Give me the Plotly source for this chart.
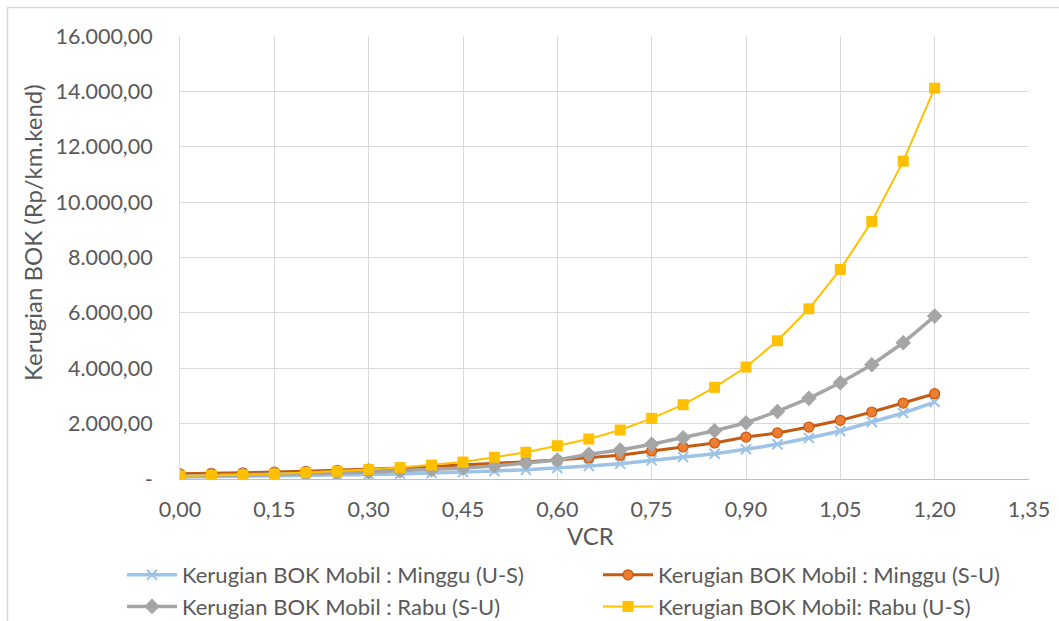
import plotly.graph_objects as go

# VCR values on the x axis
vcr = [0.00, 0.05, 0.10, 0.15, 0.20, 0.25, 0.30, 0.35, 0.40, 0.45, 0.50, 0.55,
       0.60, 0.65, 0.70, 0.75, 0.80, 0.85, 0.90, 0.95, 1.00, 1.05, 1.10, 1.15, 1.20]

# Kerugian BOK (Rp/km.kend) per series
minggu_us = [70, 80, 90, 105, 120, 140, 160, 185, 215, 250, 289, 337,
             397, 469, 553, 675, 794, 914, 1072, 1253, 1480, 1733, 2058, 2383, 2780]
minggu_su = [190, 205, 225, 250, 280, 315, 355, 400, 450, 500, 560, 620,
             686, 758, 856, 1011, 1155, 1300, 1516, 1665, 1877, 2119, 2419, 2744, 3080]
rabu_su = [110, 125, 140, 160, 185, 215, 250, 290, 340, 400, 469, 588,
           686, 892, 1047, 1253, 1491, 1744, 2032, 2440, 2913, 3477, 4126, 4921, 5884]
rabu_us = [108, 123, 144, 180, 231, 278, 339, 411, 505, 614, 785, 965,
           1202, 1444, 1769, 2191, 2683, 3310, 4043, 4993, 6148, 7570, 9303, 11480, 14116]

series_names = [
    "Kerugian BOK Mobil : Minggu (U-S)",
    "Kerugian BOK Mobil : Minggu (S-U)",
    "Kerugian BOK Mobil : Rabu (S-U)",
    "Kerugian BOK Mobil: Rabu (U-S)",
]

y_tick_values = [0, 2000, 4000, 6000, 8000, 10000, 12000, 14000, 16000]
y_tick_labels = ["-", "2.000,00", "4.000,00", "6.000,00", "8.000,00",
                 "10.000,00", "12.000,00", "14.000,00", "16.000,00"]
x_tick_values = [0.00, 0.15, 0.30, 0.45, 0.60, 0.75, 0.90, 1.05, 1.20, 1.35]
x_tick_labels = ["0,00", "0,15", "0,30", "0,45", "0,60", "0,75", "0,90", "1,05", "1,20", "1,35"]

FONT = "Lato"
TEXT_COLOR = "#595959"
GRID = "#D9D9D9"
TICK_SIZE = 21.5
TITLE_SIZE = 24
LEGEND_SIZE = 22

fig = go.Figure()

# left legend column: Minggu (U-S), Rabu (S-U); right column: Minggu (S-U), Rabu (U-S)
fig.add_trace(go.Scatter(
    x=vcr, y=minggu_us, name=series_names[0], mode="lines+markers", legend="legend",
    line=dict(color="#9DC3E6", width=3.5),
    marker=dict(symbol="x-thin", size=10, line=dict(color="#9DC3E6", width=2)),
))
fig.add_trace(go.Scatter(
    x=vcr, y=minggu_su, name=series_names[1], mode="lines+markers", legend="legend2",
    line=dict(color="#C55A11", width=3),
    marker=dict(symbol="circle", size=10, color="#ED7D31",
                line=dict(color="#C55A11", width=1.2)),
))
fig.add_trace(go.Scatter(
    x=vcr, y=rabu_su, name=series_names[2], mode="lines+markers", legend="legend",
    line=dict(color="#A5A5A5", width=3.5),
    marker=dict(symbol="diamond", size=12, color="#A5A5A5"),
))
fig.add_trace(go.Scatter(
    x=vcr, y=rabu_us, name=series_names[3], mode="lines+markers", legend="legend2",
    line=dict(color="#FFC000", width=2),
    marker=dict(symbol="square", size=11, color="#FFC000"),
))

# plot area spans x 180..1029 px, y 36..479 px
L, R, T, B = 180, 1029, 36, 479
W, H = R - L, B - T


def px_x(x):
    return (x - L) / W


def px_y(y):
    return (B - y) / H


legend_style = dict(
    orientation="v", xanchor="left", yanchor="top",
    itemwidth=50, tracegroupgap=0,
    font=dict(family=FONT, size=LEGEND_SIZE, color=TEXT_COLOR),
    bgcolor="rgba(0,0,0,0)", traceorder="normal",
)

fig.update_layout(
    width=1059, height=621,
    margin=dict(l=L, r=1059 - R, t=T, b=621 - B, autoexpand=False),
    paper_bgcolor="white", plot_bgcolor="white",
    font=dict(family=FONT, size=TICK_SIZE, color=TEXT_COLOR),
    showlegend=True,
    legend=dict(x=px_x(122), y=px_y(554), **legend_style),
    legend2=dict(x=px_x(598), y=px_y(554), **legend_style),
    xaxis=dict(
        range=[0, 1.35], tickvals=x_tick_values, ticktext=x_tick_labels,
        showgrid=True, gridcolor=GRID, gridwidth=1,
        showline=True, linecolor="#BFBFBF", linewidth=1, mirror=False,
        zeroline=False, ticks="", ticklabelstandoff=11,
        tickfont=dict(family=FONT, size=TICK_SIZE, color=TEXT_COLOR),
    ),
    yaxis=dict(
        range=[0, 16000], tickvals=y_tick_values, ticktext=y_tick_labels,
        showgrid=True, gridcolor=GRID, gridwidth=1,
        showline=True, linecolor="#D9D9D9", linewidth=1,
        zeroline=False, ticks="", ticklabelstandoff=22,
        tickfont=dict(family=FONT, size=TICK_SIZE, color=TEXT_COLOR),
    ),
    annotations=[
        dict(text="Kerugian BOK (Rp/km.kend)", xref="paper", yref="paper",
             x=px_x(32), y=px_y(233), textangle=-90, showarrow=False,
             xanchor="center", yanchor="middle",
             font=dict(family=FONT, size=TITLE_SIZE, color=TEXT_COLOR)),
        dict(text="VCR", xref="paper", yref="paper",
             x=px_x(590), y=px_y(535), showarrow=False,
             xanchor="center", yanchor="middle",
             font=dict(family=FONT, size=TITLE_SIZE, color=TEXT_COLOR)),
    ],
    shapes=[
        dict(type="rect", xref="paper", yref="paper",
             x0=px_x(7.5), x1=px_x(1065), y0=px_y(640), y1=px_y(7.5),
             line=dict(color="#D9D9D9", width=1.5), layer="below"),
    ],
)

fig.write_html("out.html")
